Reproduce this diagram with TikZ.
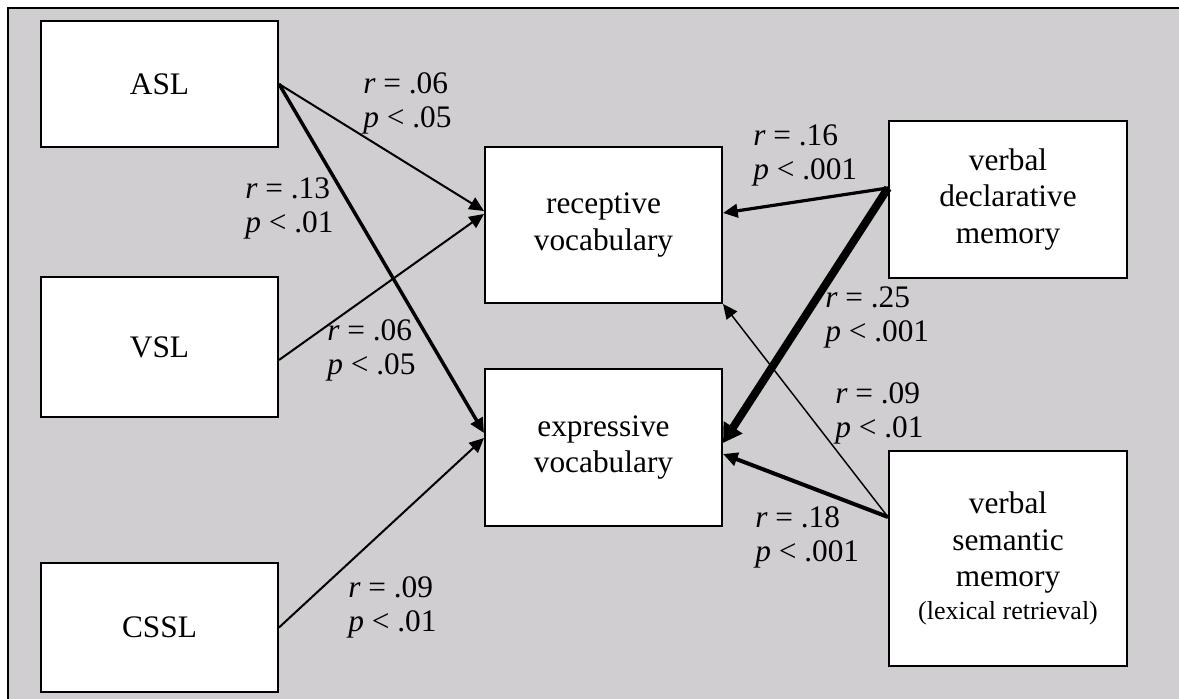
\documentclass[tikz,border=0pt]{standalone}
\usepackage{fontspec}
\setmainfont{Liberation Serif}
\usetikzlibrary{arrows.meta}
\definecolor{panel}{RGB}{208,206,208}
\begin{document}
\begin{tikzpicture}[x=0.75pt,y=-0.75pt,
  box/.style 2 args={draw, fill=white, line width=1.5pt, align=center,
    minimum width=#1*0.75pt, minimum height=#2*0.75pt, inner sep=0pt,
    font=\fontsize{23.5}{27.5}\selectfont},
  stat/.style={anchor=west, align=left, inner sep=0pt,
    font=\fontsize{23.5}{25.5}\selectfont},
  link/.style={line width=#1, -{Triangle[length=11pt,width=10pt]}},
  heavy/.style={line width=6pt, -{Triangle[length=14pt,width=16pt]}}]
\useasboundingbox (0,0) rectangle (1179,699);
% background panel, its right and bottom edges run off the page
\fill[panel] (8,8) rectangle (1179,699);
\draw[line width=2.2pt] (8,699) -- (8,8) -- (1179,8);

% learning measures
\node[box={237}{126}] (asl)  at (159.5,84)  {ASL};
\node[box={237}{140}] (vsl)  at (159.5,347) {VSL};
\node[box={237}{129}] (cssl) at (159.5,627.5) {CSSL};
% vocabulary outcomes
\node[box={237}{156}] (rec)  at (603.5,225)   {receptive\\vocabulary};
\node[box={237}{157}] (expr) at (603.5,447.5) {expressive\\vocabulary};
% memory measures
\node[box={238}{157}] (vdm) at (1008,199.5) {verbal\\declarative\\memory};
\node[box={238}{215}] (vsm) at (1008,558.5)
  {verbal\\semantic\\memory\\[-3pt]{\fontsize{19.5}{22}\selectfont (lexical retrieval)}};

% anchor points on the box sides
\coordinate (aslout) at (asl.east);
\coordinate (vslout) at ([yshift=-13*0.75pt]vsl.east);
\coordinate (csslout) at (cssl.east);
\coordinate (recA) at ([yshift=14*0.75pt]rec.west);
\coordinate (recB) at ([yshift=11*0.75pt]rec.west);
\coordinate (exprA) at ([yshift=14.5*0.75pt]expr.west);
\coordinate (exprB) at ([yshift=9.5*0.75pt]expr.west);
\coordinate (vdmout) at ([yshift=11.5*0.75pt]vdm.west);
\coordinate (vsmout) at ([yshift=41.5*0.75pt]vsm.west);
\coordinate (recR) at ([yshift=12*0.75pt]rec.east);
\coordinate (exprR1) at ([yshift=4.5*0.75pt]expr.east);
\coordinate (exprR2) at ([yshift=-6.5*0.75pt]expr.east);

% paths
\draw[link=1.5pt] (aslout) -- (recA);
\draw[link=2.6pt] (aslout) -- (exprA);
\draw[link=1.5pt] (vslout) -- (recB);
\draw[link=1.5pt] (csslout) -- (exprB);
\draw[link=2.4pt] (vdmout) -- (recR);
\draw[heavy] (vdmout) -- (exprR1);
\draw[link=1.1pt] (vsmout) -- (rec.south east);
\draw[link=3pt] (vsmout) -- (exprR2);

% coefficients
\node[stat] (s1) at (363,103) {\textit{r} = .06\\\textit{p} < .05};
\node[stat] (s2) at (245,208) {\textit{r} = .13\\\textit{p} < .01};
\node[stat] (s3) at (327,350) {\textit{r} = .06\\\textit{p} < .05};
\node[stat] (s4) at (348,607) {\textit{r} = .09\\\textit{p} < .01};
\node[stat] (s5) at (753,155) {\textit{r} = .16\\\textit{p} < .001};
\node[stat] (s6) at (825,317) {\textit{r} = .25\\\textit{p} < .001};
\node[stat] (s7) at (835,413) {\textit{r} = .09\\\textit{p} < .01};
\node[stat] (s8) at (755,537) {\textit{r} = .18\\\textit{p} < .001};
\end{tikzpicture}
\end{document}
